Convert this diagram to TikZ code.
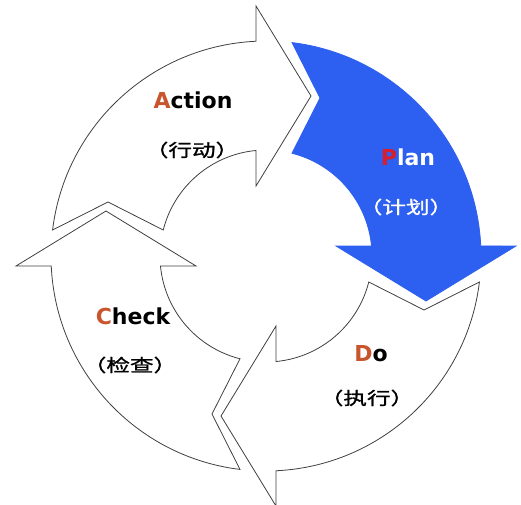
\documentclass[tikz,border=0pt]{standalone}
\usepackage{fontspec}
\setsansfont{DejaVu Sans}
\newfontfamily\cjkfont[FakeStretch=1.35, FakeBold=1.2]{Noto Sans CJK SC}
\usepackage{xcolor}
\usepackage{tikz}
\definecolor{planblue}{RGB}{45,95,240}
\definecolor{initred}{RGB}{200,85,45}
\definecolor{pred}{RGB}{215,30,45}

\begin{document}
\begin{tikzpicture}[x=1pt, y=1pt,
    cyclearrow/.style={draw=black!75, line width=0.8pt, fill=white, line join=miter},
    planarrow/.style={draw=planblue, line width=0.8pt, fill=planblue},
    lbl/.style={font=\sffamily\bfseries\fontsize{22}{22}\selectfont, inner sep=0pt},
    cjk/.style={font=\cjkfont\fontsize{17.5}{17.5}\selectfont, inner sep=0pt}]
  \useasboundingbox (-266,-248) rectangle (255,256);
  % Plan (top to right)
  \draw[planarrow] (83.05:215) arc[start angle=83.05, end angle=2.67, radius=215] -- (250,10) -- (160,-45) -- (70,10) -- (5.41:106) arc[start angle=5.41, end angle=75.8, radius=106] -- (54,158) -- cycle;
  % Do (right to bottom)
  \draw[cyclearrow, rotate=-90] (83.05:215) arc[start angle=83.05, end angle=2.67, radius=215] -- (250,10) -- (160,-45) -- (70,10) -- (5.41:106) arc[start angle=5.41, end angle=75.8, radius=106] -- (54,158) -- cycle;
  % Check (bottom to left)
  \draw[cyclearrow, rotate=-180] (83.05:215) arc[start angle=83.05, end angle=2.67, radius=215] -- (250,10) -- (160,-45) -- (70,10) -- (5.41:106) arc[start angle=5.41, end angle=75.8, radius=106] -- (54,158) -- cycle;
  % Action (left to top)
  \draw[cyclearrow, rotate=90] (83.05:215) arc[start angle=83.05, end angle=2.67, radius=215] -- (250,10) -- (160,-45) -- (70,10) -- (5.41:106) arc[start angle=5.41, end angle=75.8, radius=106] -- (54,158) -- cycle;
  \node[lbl] (action) at (-73,156) {\textcolor{initred}{A}ction};
  \node[cjk] (actioncn) at (-74,106) {（行动）};
  \node[lbl, text=white] (plan) at (142,99) {\textcolor{pred}{P}lan};
  \node[cjk, text=white] (plancn) at (140,49) {（计划）};
  \node[lbl] (do) at (105,-98) {\textcolor{initred}{D}o};
  \node[cjk] (docn) at (101,-142) {（执行）};
  \node[lbl] (check) at (-133,-60) {\textcolor{initred}{C}heck};
  \node[cjk] (checkcn) at (-136,-109) {（检查）};
\end{tikzpicture}
\end{document}
